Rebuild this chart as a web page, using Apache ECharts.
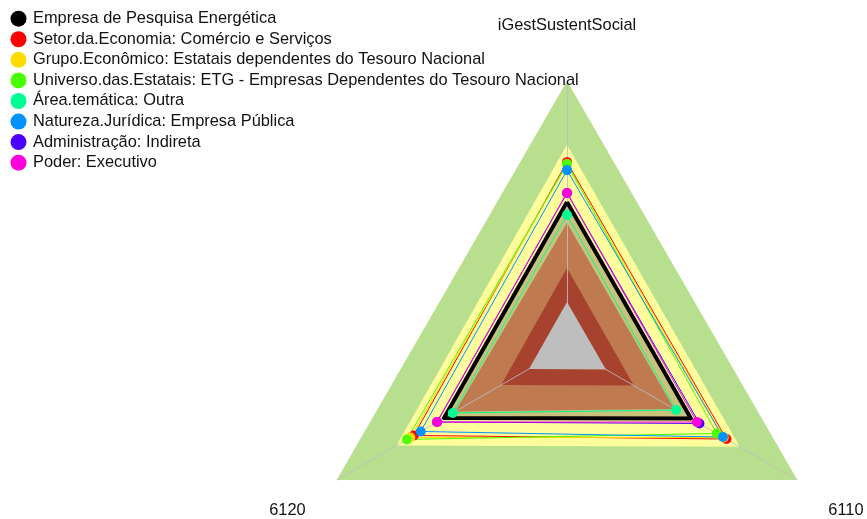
<!DOCTYPE html>
<html>
<head>
<meta charset="utf-8">
<script src="https://cdn.jsdelivr.net/npm/echarts@6/dist/echarts.min.js"></script>
<style>
  html, body { margin: 0; padding: 0; background: #fff; }
  #radarChart { width: 867px; height: 519px; }
</style>
</head>
<body>
<div id="radarChart"></div>
<script>
// axes, counter-clockwise from the top
const indicators = ['iGestSustentSocial', '6120', '6110']

const seriesNames = [
  'Empresa de Pesquisa Energética',
  'Setor.da.Economia: Comércio e Serviços',
  'Grupo.Econômico: Estatais dependentes do Tesouro Nacional',
  'Universo.das.Estatais: ETG - Empresas Dependentes do Tesouro Nacional',
  'Área.temática: Outra',
  'Natureza.Jurídica: Empresa Pública',
  'Administração: Indireta',
  'Poder: Executivo',
]

// one row per series, values in indicator order
const seriesValues = [
  [0.545, 0.534, 0.538],
  [0.695, 0.665, 0.692],
  [0.688, 0.680, 0.680],
  [0.688, 0.695, 0.650],
  [0.496, 0.496, 0.474],
  [0.665, 0.635, 0.677],
  [0.579, 0.564, 0.575],
  [0.579, 0.564, 0.564],
]

// background bands, outer to inner
const bandValues = [
  [1.000, 1.000, 1.000],
  [0.760, 0.740, 0.750],
  [0.540, 0.530, 0.530],
  [0.466, 0.485, 0.466],
  [0.297, 0.286, 0.290],
  [0.169, 0.165, 0.169],
]

const seriesColors = ['#000000', '#FF0000', '#FFDB00', '#49FF00', '#00FF92', '#0092FF', '#4900FF', '#FF00DB']
const bandColors = ['#B8DF8E', '#FFFD9C', '#C8C27C', '#BF7A50', '#A6422D', '#BEBEBE']

const chart = echarts.init(document.getElementById('radarChart'))

const font = "'Liberation Sans', Arial, sans-serif"

const option = {
  animation: false,
  textStyle: { fontFamily: font },
  legend: {
    orient: 'vertical',
    left: 5.5,
    top: 5.7,
    icon: 'circle',
    itemWidth: 19,
    itemHeight: 16,
    itemGap: 4.57,
    data: seriesNames,
    textStyle: { fontSize: 16.4, lineHeight: 16, color: '#111', fontFamily: font },
  },
  radar: {
    center: [567, 347],
    radius: 266,
    shape: 'polygon',
    startAngle: 90,
    z: 3,
    indicator: indicators.map(name => ({ name, min: 0, max: 1 })),
    nameGap: 30,
    axisName: {
      color: '#111',
      fontSize: 16.4,
      fontFamily: font,
      lineHeight: 30,
      padding: [0, 5, 11, 5],
      // empty first line pushes the side labels down, top label stays put
      formatter: name => '\n' + name,
    },
    axisLine: { lineStyle: { color: '#BEBEBE', width: 1, opacity: 0.85 } },
    splitLine: { show: false },
    splitArea: { show: false },
    axisTick: { show: false },
    axisLabel: { show: false },
  },
  series: [
    {
      type: 'radar',
      name: 'bands',
      z: 1,
      silent: true,
      symbol: 'none',
      data: bandValues.map((value, i) => ({
        value,
        lineStyle: { width: 0, color: bandColors[i] },
        areaStyle: { color: bandColors[i], opacity: 1 },
      })),
    },
    ...seriesNames.map((name, i) => ({
      type: 'radar',
      name,
      z: 5,
      symbol: i === 0 ? 'none' : 'circle',
      symbolSize: 10,
      itemStyle: { color: seriesColors[i] },
      lineStyle: { color: seriesColors[i], width: i === 0 ? 4 : 1 },
      data: [{ value: seriesValues[i], name }],
    })),
  ],
}

chart.setOption(option)
</script>
</body>
</html>
